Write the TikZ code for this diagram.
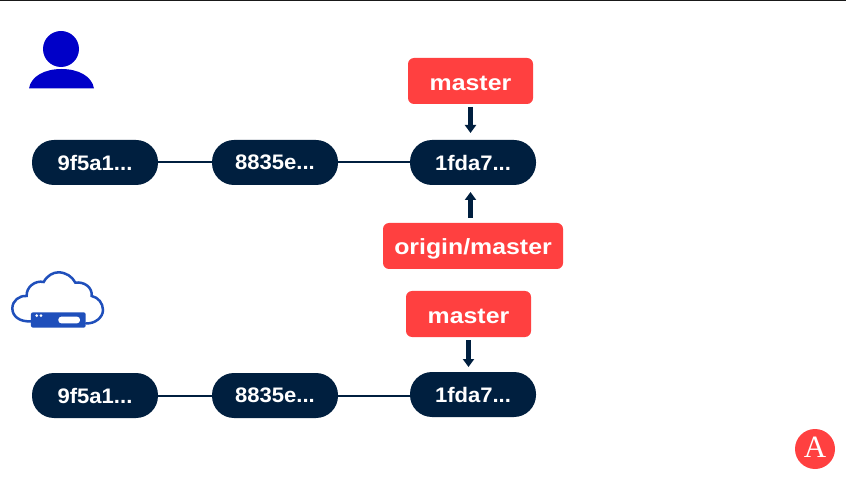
\documentclass[tikz,border=0pt]{standalone}
\usepackage{fontspec}
\setmainfont{Liberation Sans}
\newfontfamily\seriffont{Liberation Serif}
\usetikzlibrary{arrows.meta,calc}
\definecolor{navy}{HTML}{001F3F}
\definecolor{redbox}{HTML}{FF4040}
\definecolor{personblue}{HTML}{0000C8}
\definecolor{cloudblue}{HTML}{1F4FBB}
\tikzset{
  lbl/.style={font=\fontsize{21}{24}\selectfont\bfseries, text=white, inner sep=0pt, outer sep=0pt},
  commit/.style={lbl, fill=navy, rounded corners=22pt, minimum width=126pt, minimum height=45pt},
  branch/.style={lbl, font=\fontsize{22}{24}\selectfont\bfseries, fill=redbox, rounded corners=6pt, minimum height=46pt},
  link/.style={navy, line width=2pt},
  pointer/.style={navy, line width=4.5pt, -{Triangle[width=11pt,length=8pt]}}
}
\newcommand{\cmtext}[1]{\scalebox{1.05}[1]{#1}}
\newcommand{\brtext}[1]{\raisebox{-2.5pt}[\height][\depth]{\scalebox{1.13}[1]{#1}}}
\begin{document}
\begin{tikzpicture}[x=1pt,y=-1pt]
\useasboundingbox (0,0) rectangle (846,478);
\fill[white] (0,0) rectangle (846,478);
\fill[black!90] (0,0) rectangle (846,1);
% person
\fill[personblue] (61,49) circle (18);
\fill[personblue] (29,88.5) .. controls (31,76) and (45,69) .. (61.5,69) .. controls (78,69) and (92,76) .. (94,88.5) -- cycle;
% cloud
\begin{scope}[shift={(0,260)},x=0.3333pt,y=-0.3333pt]
  \draw[cloudblue,line width=2.5pt,line cap=round]
    (93,184) .. controls (60,186) and (37,170) .. (37,145)
    .. controls (37,122) and (58,106) .. (80,108)
    .. controls (78,82) and (105,60) .. (131,66)
    .. controls (142,46) and (160,37) .. (175,37)
    .. controls (198,37) and (217,50) .. (226,68)
    .. controls (252,64) and (278,82) .. (275,108)
    .. controls (295,112) and (309,130) .. (309,150)
    .. controls (309,172) and (285,192) .. (258,190);
  \fill[cloudblue,rounded corners=2pt] (93,157) rectangle (257,203);
  \fill[white,rounded corners=3pt] (175,170) rectangle (240,190);
  \fill[white] (110,167) circle (4.5) (123,167) circle (4.5);
\end{scope}
% commits, row 1
\node[commit] (a1) at (95,162.5) {\cmtext{9f5a1...}};
\node[commit] (b1) at (275,162.5) {\cmtext{8835e...}};
\node[commit] (c1) at (473,162.5) {\cmtext{1fda7...}};
% commits, row 2
\node[commit] (a2) at (95,395.5) {\cmtext{9f5a1...}};
\node[commit] (b2) at (275,395.5) {\cmtext{8835e...}};
\node[commit] (c2) at (473,394.5) {\cmtext{1fda7...}};
% branches
\node[branch,minimum width=125pt] (m1) at (470.5,81) {\brtext{master}};
\node[branch,minimum width=180pt] (o1) at (473,246) {\brtext{origin/master}};
\node[branch,minimum width=125pt] (m2) at (468.5,314) {\brtext{master}};
% links
\draw[link] (a1) -- (b1);
\draw[link] (b1) -- (c1);
\draw[link] (a2) -- (b2);
\draw[link] (b2) -- (b2 -| c2.west);
% pointers
\draw[pointer,shorten <=3pt,shorten >=7pt] (m1.south) -- (m1.south |- c1.north);
\draw[pointer,shorten <=5pt,shorten >=7pt] (m1.south |- o1.north) -- (m1.south |- c1.south);
\draw[pointer,shorten <=3pt,shorten >=5pt] (m2.south) -- (m2.south |- c2.north);
% logo
\fill[redbox] (815,449) circle (20);
\node[font=\seriffont\fontsize{31}{31}\selectfont,text=white,inner sep=0pt] (logo) at (815,447.5) {A};
\end{tikzpicture}
\end{document}
